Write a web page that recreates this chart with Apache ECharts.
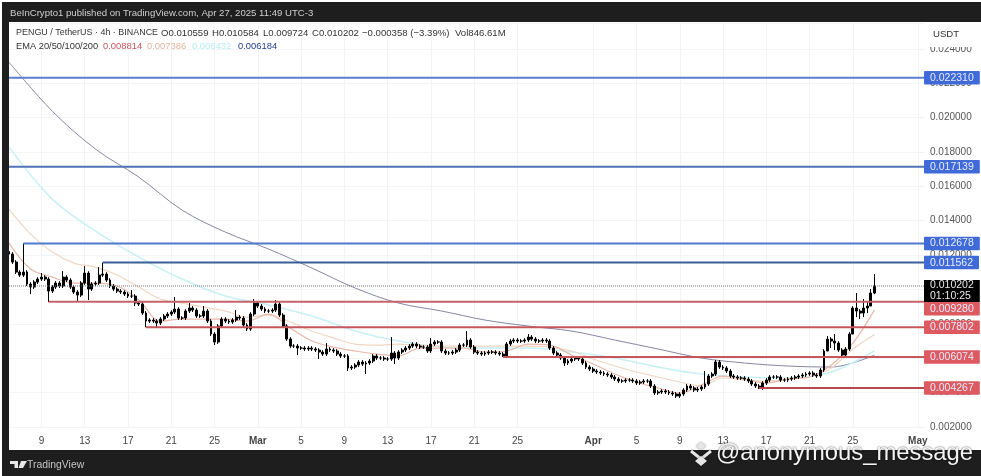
<!DOCTYPE html>
<html><head><meta charset="utf-8">
<style>html,body{margin:0;padding:0;background:#fff}#c{width:981px;height:476px;filter:blur(.45px)}</style>
<script src="https://cdn.jsdelivr.net/npm/echarts@6/dist/echarts.min.js"></script>
</head><body><div id="c"></div>
<script>
// prices in millionths of USDT, one close every 8 hours from 6 Feb 2025
const closes = [
12058,11593,11012,10837,11012,10314,10140,10430,10605,10721,
10605,9907,10140,10372,10198,10721,10546,10140,9849,9675,
10372,10953,10023,10314,10372,10837,10895,10546,10198,10023,
9907,9849,9733,9616,9616,9209,9151,8628,8163,8221,
8163,8047,8279,8454,8570,8686,8861,8337,8337,8744,
8919,8802,8454,8454,8744,8163,7407,6942,7872,8279,
8163,8105,8221,8395,8337,7930,7698,8570,9209,9035,
8861,8744,8744,8802,9151,8512,7872,7116,6709,6709,
6593,6593,6535,6593,6535,6477,6360,6244,6535,6477,
6419,6244,6128,6128,5430,5488,5605,5779,5663,5721,
5837,6128,6012,6012,5953,5953,6302,6012,6360,6477,
6593,6709,6826,6709,6651,6651,6419,6826,6942,6942,
6419,6302,6302,6360,6477,6767,6767,7058,6651,6360,
6302,6244,6302,6360,6360,6302,6244,6128,6826,7000,
7058,7000,7000,7058,7233,7116,7000,7000,7058,7000,
6593,6302,6186,6012,5721,5837,5953,6012,5953,5721,
5488,5372,5256,5198,5139,5081,5023,4907,4791,4674,
4674,4732,4732,4674,4558,4616,4674,4674,4384,3977,
4035,4093,4035,3977,3918,3802,3918,4151,4384,4267,
4151,4209,4325,4500,4965,5081,5779,5488,5430,5256,
4965,4907,4849,4849,4791,4674,4500,4384,4267,4558,
4732,4907,4907,4907,4732,4732,4791,4849,4907,4965,
5023,5081,5139,5023,4965,5314,6419,7116,7000,6884,
6477,6186,6535,7407,8919,8744,8628,8919,9035,9791,
10202];
const firstOpen = 12200;
// wick size read as typical for the ordinary candles; the long wicks are listed one by one
const typicalWick = 110;
const highWickAt  = [0,4,9,15,21,25,26,34,46,50,54,63,68,74,88,106,117,127,144,193,196,227,229,235,237,238,239,240];
const highWickVal = [12233,12678,10953,11070,11360,11302,11562,9965,9558,9209,9035,8802,9442,9384,6884,7233,7174,7581,7407,5256,5895,7291,7407,9791,9442,9326,10023,10895];
const lowWickAt  = [6,11,19,22,35,38,41,57,66,80,86,94,99,107,137,154,179,185,208,227,228,229,231,234,235,236,237,238,239,240];
const lowWickVal = [9733,9268,9268,9384,9035,7802,7814,6767,7581,6186,5953,5256,5081,5663,6074,5546,3860,3686,4209,6709,6593,6477,6070,8279,8395,8279,8395,8628,9035,9724];

// EMA readings: EMA 20 and 50 every 2 days, EMA 100 and 200 every 4 days
const ema20 = [12698,11186,10721,10372,10372,10198,9384,8163,8279,8279,8279,8163,8570,7756,7000,6651,6419,6244,6128,6593,6593,6593,6360,6419,6826,6767,6186,5663,5081,4616,4267,3977,4442,4965,4791,4558,4791,4907,5605,6884,8814];
const ema50 = [14675,13221,12175,11535,11302,10837,10140,9442,9209,8977,8744,8395,8512,8105,7581,7174,6826,6767,6826,6767,6709,6709,6709,6709,6709,6651,6419,5953,5546,5198,4907,4616,4384,4849,4732,4674,4791,4907,5430,6535,7386];
const ema100 = [18280,15256,13396,11884,10605,9616,9093,8454,7581,7000,6651,6593,6593,6360,6012,5488,5081,4907,4849,5198,6432];
const ema200 = [23221,20373,18163,16535,14617,13337,12349,11244,10081,9209,8744,8221,7872,7581,7058,6535,6012,5721,5546,5488,6184];

const blueLevels = [22310,17139,12678,11562];
const blueStarts = [0,0,4,26];
const redLevels = [9280,7802,6074,4267];
const redStarts = [11,38,137,208];
const lastPrice = 10202;
const priceCountdown = '01:10:25';

const tickLabels = ['9','13','17','21','25','Mar','5','9','13','17','21','25','Apr','5','9','13','17','21','25','May'];
const tickDates = ['02-09','02-13','02-17','02-21','02-25','03-01','03-05','03-09','03-13','03-17','03-21','03-25','04-01','04-05','04-09','04-13','04-17','04-21','04-25','05-01'];

const categories = [];
for (let i = 0; i <= 254; i++) {
  const d = new Date(Date.UTC(2025, 1, 6, 8 * i));
  const md = String(d.getUTCMonth() + 1).padStart(2, '0') + '-' + String(d.getUTCDate()).padStart(2, '0');
  categories.push(md + ' ' + String(d.getUTCHours()).padStart(2, '0'));
}
const P = v => v / 1e6;
const tickCats = {};
tickDates.forEach((d, i) => { tickCats[d + ' 00'] = tickLabels[i]; });
const isTick = (idx, val) => tickCats[val] !== undefined;

const candles = closes.map((c, i) => {
  const o = i ? closes[i - 1] : firstOpen;
  const hi = highWickAt.indexOf(i), lo = lowWickAt.indexOf(i);
  const h = hi >= 0 ? Math.max(highWickVal[hi], o, c) : Math.max(o, c) + typicalWick;
  const l = lo >= 0 ? Math.min(lowWickVal[lo], o, c) : Math.min(o, c) - typicalWick;
  return [P(o), P(c), P(l), P(h)];
});
const sampled = (arr, step) => arr.map((v, k) => [categories[k * step], P(v)]);
const ema = (name, arr, step, color, width) => ({
  type: 'line', name, data: sampled(arr, step), smooth: 0.35, showSymbol: false, silent: true, z: 3,
  lineStyle: { color, width }
});
const levelLine = (v, start, lineColor, boxColor, offset) => ({
  type: 'line', data: [[categories[start], P(v)], [categories[254], P(v)]], showSymbol: false, silent: true, z: 5, clip: false,
  lineStyle: { color: lineColor, width: 2 },
  endLabel: { show: true, formatter: () => P(v).toFixed(6), color: '#e6ecff', fontSize: 10.5, fontFamily: 'Liberation Sans',
    backgroundColor: boxColor, padding: [1.5, 6, 1, 6], borderRadius: 1, distance: -1, offset: [0, offset] }
});
const TXT = (x, y, text, fill, size, extra) => ({ type: 'text', x, y, silent: true, z: 50,
  style: Object.assign({ text, fill, fontSize: size, fontFamily: 'Liberation Sans', textVerticalAlign: 'middle' }, extra || {}) });
const RECT = (x, y, width, height, fill, z) => ({ type: 'rect', shape: { x, y, width, height }, silent: true, z: z || 40, style: { fill } });

const headerColor = '#333';
const graphics = [
  RECT(2, 2, 979, 20, '#1e1e1e'), RECT(2, 2, 7, 474, '#1e1e1e'), RECT(2, 450, 979, 26, '#1e1e1e'),
  RECT(926, 22, 55, 25, '#fff', 30),
  TXT(10, 13.5, 'BeInCrypto1 published on TradingView.com, Apr 27, 2025 11:49 UTC-3', '#cfcfcf', 9.6),
  TXT(16, 33, 'PENGU / TetherUS · 4h · BINANCE', headerColor, 8.95),
  TXT(161, 33, 'O0.010559', headerColor, 9.6), TXT(212, 33, 'H0.010584', headerColor, 9.6),
  TXT(263, 33, 'L0.009724', headerColor, 9.6), TXT(312, 33, 'C0.010202', headerColor, 9.6),
  TXT(362, 33, '−0.000358 (−3.39%)', headerColor, 9.6), TXT(455, 33, 'Vol846.61M', headerColor, 9.6),
  TXT(16, 46, 'EMA 20/50/100/200', headerColor, 9.3),
  TXT(103, 46, '0.008814', '#c7565e', 9.4), TXT(147, 46, '0.007386', '#e5b39e', 9.4),
  TXT(192, 46, '0.006432', '#b5eef5', 9.4), TXT(238, 46, '0.006184', '#24408e', 9.4),
  TXT(933, 34, 'USDT', '#333', 9.6),
  { type: 'polygon', silent: true, z: 50, shape: { points: [[10,461],[18,461],[18,468],[14.5,468],[14.5,464],[10,464]] }, style: { fill: '#e8e8e8' } },
  { type: 'polygon', silent: true, z: 50, shape: { points: [[21,461],[27,461],[23,468],[18.5,468]] }, style: { fill: '#e8e8e8' } },
  TXT(27, 465, 'TradingView', '#c4c4c4', 10.4),
  { type: 'polyline', silent: true, z: 51, shape: { points: [[691,451],[701,459],[711,451]] }, style: { stroke: '#e6e6e6', lineWidth: 3, fill: 'none', shadowBlur: 2, shadowColor: 'rgba(0,0,0,.6)' } },
  { type: 'polygon', silent: true, z: 51, shape: { points: [[696,446],[701,442],[706,446],[701,450]] }, style: { fill: '#e6e6e6', shadowBlur: 2, shadowColor: 'rgba(0,0,0,.5)' } },
  { type: 'polygon', silent: true, z: 51, shape: { points: [[695,461],[701,456],[707,461],[701,466]] }, style: { fill: '#e6e6e6', shadowBlur: 2, shadowColor: 'rgba(0,0,0,.5)' } },
  TXT(716, 453, '@anonymous_message', '#f4f4f4', 23.8, { textShadowBlur: 2, textShadowColor: 'rgba(0,0,0,.75)' })
];

const chart = echarts.init(document.getElementById('c'), null, { renderer: 'canvas' });
chart.setOption({
  animation: false,
  backgroundColor: '#fff',
  grid: { left: 9, right: 56, top: 23, bottom: 49 },
  xAxis: {
    type: 'category', data: categories, boundaryGap: false,
    axisLine: { show: false }, axisTick: { show: false },
    axisLabel: { interval: isTick, margin: 9, fontSize: 10, color: '#444', fontFamily: 'Liberation Sans',
      hideOverlap: false,
      formatter: v => { const t = tickCats[v]; return /[A-Z]/.test(t || '') ? '{b|' + t + '}' : (t || ''); },
      rich: { b: { fontWeight: 'bold', fontSize: 10, color: '#444', fontFamily: 'Liberation Sans' } } },
    splitLine: { show: true, interval: isTick, lineStyle: { color: '#f2f4f6', width: 1 } }
  },
  yAxis: {
    type: 'value', position: 'right', min: 0.002, max: 0.0255, interval: 0.002,
    axisLine: { show: false }, axisTick: { show: false },
    axisLabel: { formatter: v => v.toFixed(6), fontSize: 10, color: '#555', margin: 5, fontFamily: 'Liberation Sans',
      showMaxLabel: false },
    splitLine: { lineStyle: { color: '#f2f4f6', width: 1 } }
  },
  series: [
    ema('EMA 200', ema200, 12, '#8787a6', 1),
    ema('EMA 100', ema100, 12, '#c8f0f5', 1.6),
    ema('EMA 50', ema50, 6, '#f1d6c2', 1.2),
    ema('EMA 20', ema20, 6, '#e9b8a8', 1.2),
    { type: 'candlestick', data: candles, barWidth: 2.4, silent: true, z: 4,
      itemStyle: { color: '#000', color0: '#000', borderColor: '#000', borderColor0: '#000', borderWidth: 1 } },
    levelLine(blueLevels[0], blueStarts[0], '#5b7fce', '#3f6ad8', 0),
    levelLine(blueLevels[1], blueStarts[1], '#4f74b8', '#3f6ad8', 0),
    levelLine(blueLevels[2], blueStarts[2], '#5079cc', '#3f6ad8', 0),
    levelLine(blueLevels[3], blueStarts[3], '#3a5f96', '#3f6ad8', 0),
    { type: 'line', data: [[categories[0], P(lastPrice)], [categories[254], P(lastPrice)]], showSymbol: false, silent: true, z: 6, clip: false,
      lineStyle: { color: '#777', width: 1, type: 'dotted' },
      endLabel: { show: true, formatter: () => P(lastPrice).toFixed(6) + '\n' + priceCountdown, color: '#e8e8e8', fontSize: 10.5, lineHeight: 11,
        fontFamily: 'Liberation Sans', backgroundColor: '#000', padding: [0, 6, 0, 6], distance: -1, offset: [0, 5] } },
    levelLine(redLevels[0], redStarts[0], '#c4646a', '#dc5a60', 7),
    levelLine(redLevels[1], redStarts[1], '#c4565c', '#dc5a60', 0),
    levelLine(redLevels[2], redStarts[2], '#c4565c', '#dc5a60', 0),
    levelLine(redLevels[3], redStarts[3], '#b9474e', '#dc5a60', 0)
  ],
  graphic: graphics
});
</script></body></html>
